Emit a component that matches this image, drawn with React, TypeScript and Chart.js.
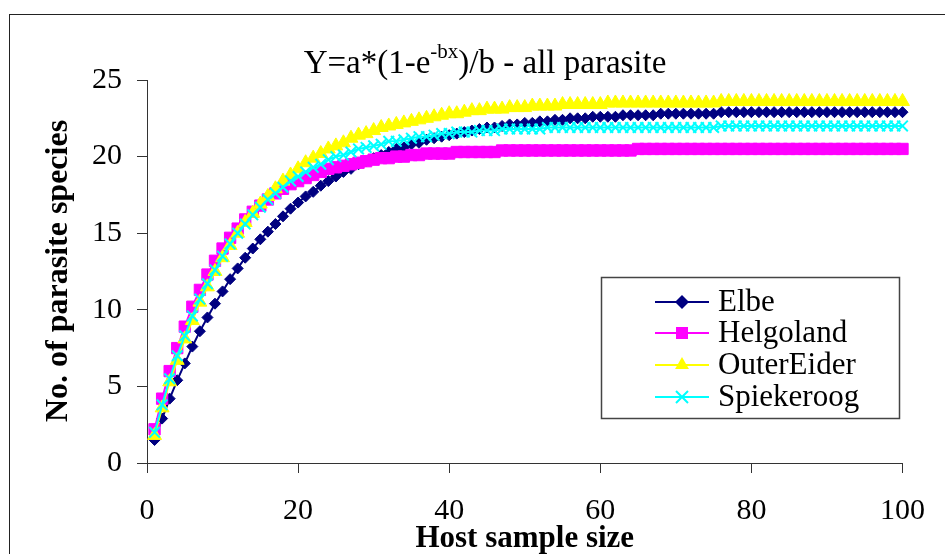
import React, { useEffect, useRef } from 'react';
import { Chart, registerables } from 'chart.js';

Chart.register(...registerables);

const hostSampleSize = [
  1, 2, 3, 4, 5, 6, 7, 8, 9, 10, 11, 12, 13, 14, 15, 16, 17, 18, 19, 20,
  21, 22, 23, 24, 25, 26, 27, 28, 29, 30, 31, 32, 33, 34, 35, 36, 37, 38, 39, 40,
  41, 42, 43, 44, 45, 46, 47, 48, 49, 50, 51, 52, 53, 54, 55, 56, 57, 58, 59, 60,
  61, 62, 63, 64, 65, 66, 67, 68, 69, 70, 71, 72, 73, 74, 75, 76, 77, 78, 79, 80,
  81, 82, 83, 84, 85, 86, 87, 88, 89, 90, 91, 92, 93, 94, 95, 96, 97, 98, 99, 100,
];

const elbe = [
  1.5, 2.9, 4.2, 5.4, 6.5, 7.6, 8.6, 9.5, 10.4, 11.2,
  12.0, 12.7, 13.4, 14.0, 14.6, 15.1, 15.6, 16.1, 16.6, 17.0,
  17.4, 17.7, 18.1, 18.4, 18.7, 19.0, 19.2, 19.5, 19.7, 19.9,
  20.1, 20.3, 20.5, 20.6, 20.8, 20.9, 21.1, 21.2, 21.3, 21.4,
  21.5, 21.6, 21.7, 21.8, 21.9, 21.9, 22.0, 22.1, 22.1, 22.2,
  22.2, 22.3, 22.3, 22.4, 22.4, 22.5, 22.5, 22.5, 22.6, 22.6,
  22.6, 22.6, 22.7, 22.7, 22.7, 22.7, 22.7, 22.8, 22.8, 22.8,
  22.8, 22.8, 22.8, 22.8, 22.8, 22.9, 22.9, 22.9, 22.9, 22.9,
  22.9, 22.9, 22.9, 22.9, 22.9, 22.9, 22.9, 22.9, 22.9, 22.9,
  22.9, 22.9, 22.9, 22.9, 22.9, 22.9, 22.9, 22.9, 22.9, 22.9,
];

const helgoland = [
  2.2, 4.2, 6.0, 7.5, 8.9, 10.2, 11.3, 12.3, 13.2, 14.0,
  14.7, 15.3, 15.9, 16.4, 16.8, 17.2, 17.6, 17.9, 18.2, 18.4,
  18.6, 18.8, 19.0, 19.2, 19.3, 19.4, 19.5, 19.6, 19.7, 19.8,
  19.9, 19.9, 20.0, 20.0, 20.1, 20.1, 20.2, 20.2, 20.2, 20.2,
  20.3, 20.3, 20.3, 20.3, 20.3, 20.3, 20.4, 20.4, 20.4, 20.4,
  20.4, 20.4, 20.4, 20.4, 20.4, 20.4, 20.4, 20.4, 20.4, 20.4,
  20.4, 20.4, 20.4, 20.4, 20.5, 20.5, 20.5, 20.5, 20.5, 20.5,
  20.5, 20.5, 20.5, 20.5, 20.5, 20.5, 20.5, 20.5, 20.5, 20.5,
  20.5, 20.5, 20.5, 20.5, 20.5, 20.5, 20.5, 20.5, 20.5, 20.5,
  20.5, 20.5, 20.5, 20.5, 20.5, 20.5, 20.5, 20.5, 20.5, 20.5,
];

const outerEider = [
  1.8, 3.6, 5.3, 6.7, 8.1, 9.3, 10.5, 11.5, 12.5, 13.4,
  14.2, 15.0, 15.7, 16.3, 16.9, 17.4, 17.9, 18.4, 18.8, 19.2,
  19.6, 19.9, 20.2, 20.5, 20.7, 20.9, 21.2, 21.4, 21.5, 21.7,
  21.9, 22.0, 22.1, 22.2, 22.3, 22.4, 22.5, 22.6, 22.7, 22.8,
  22.8, 22.9, 23.0, 23.0, 23.1, 23.1, 23.1, 23.2, 23.2, 23.2,
  23.3, 23.3, 23.3, 23.3, 23.4, 23.4, 23.4, 23.4, 23.4, 23.4,
  23.5, 23.5, 23.5, 23.5, 23.5, 23.5, 23.5, 23.5, 23.5, 23.5,
  23.5, 23.5, 23.5, 23.5, 23.5, 23.6, 23.6, 23.6, 23.6, 23.6,
  23.6, 23.6, 23.6, 23.6, 23.6, 23.6, 23.6, 23.6, 23.6, 23.6,
  23.6, 23.6, 23.6, 23.6, 23.6, 23.6, 23.6, 23.6, 23.6, 23.6,
];

const spiekeroog = [
  2.0, 3.8, 5.5, 7.0, 8.3, 9.6, 10.7, 11.7, 12.6, 13.5,
  14.3, 15.0, 15.6, 16.2, 16.7, 17.2, 17.6, 18.0, 18.4, 18.7,
  19.0, 19.3, 19.5, 19.8, 20.0, 20.1, 20.3, 20.5, 20.6, 20.7,
  20.8, 21.0, 21.0, 21.1, 21.2, 21.3, 21.3, 21.4, 21.5, 21.5,
  21.6, 21.6, 21.6, 21.7, 21.7, 21.7, 21.8, 21.8, 21.8, 21.8,
  21.8, 21.8, 21.9, 21.9, 21.9, 21.9, 21.9, 21.9, 21.9, 21.9,
  21.9, 21.9, 21.9, 21.9, 21.9, 21.9, 21.9, 21.9, 21.9, 21.9,
  21.9, 21.9, 21.9, 21.9, 21.9, 22.0, 22.0, 22.0, 22.0, 22.0,
  22.0, 22.0, 22.0, 22.0, 22.0, 22.0, 22.0, 22.0, 22.0, 22.0,
  22.0, 22.0, 22.0, 22.0, 22.0, 22.0, 22.0, 22.0, 22.0, 22.0,
];

const seriesNames = ['Elbe', 'Helgoland', 'OuterEider', 'Spiekeroog'];
const seriesValues = [elbe, helgoland, outerEider, spiekeroog];
const seriesColors = ['#000080', '#FF00FF', '#FFFF00', '#00FFFF'];
const seriesStyles = ['rectRot', 'rect', 'triangle', 'crossRot'];
const seriesRadius = [5.5, 8, 8, 7.5];

const titleMain1 = 'Y=a*(1-e';
const titleSup = '-bx';
const titleMain2 = ')/b - all parasite';
const xAxisTitle = 'Host sample size';
const yAxisTitle = 'No. of parasite species';

const SERIF = '"Liberation Serif", "Times New Roman", serif';

function drawMarker(ctx: CanvasRenderingContext2D, style: string, x: number, y: number, color: string) {
  ctx.save();
  ctx.fillStyle = color;
  ctx.strokeStyle = color;
  ctx.beginPath();
  if (style === 'rectRot') {
    const r = 7;
    ctx.moveTo(x, y - r);
    ctx.lineTo(x + r, y);
    ctx.lineTo(x, y + r);
    ctx.lineTo(x - r, y);
    ctx.closePath();
    ctx.fill();
  } else if (style === 'rect') {
    ctx.rect(x - 6, y - 6, 12, 12);
    ctx.fill();
  } else if (style === 'triangle') {
    const r = 8;
    ctx.moveTo(x, y - r);
    ctx.lineTo(x + r * 0.866, y + r * 0.5);
    ctx.lineTo(x - r * 0.866, y + r * 0.5);
    ctx.closePath();
    ctx.fill();
  } else {
    const d = 6;
    ctx.lineWidth = 2;
    ctx.moveTo(x - d, y - d);
    ctx.lineTo(x + d, y + d);
    ctx.moveTo(x + d, y - d);
    ctx.lineTo(x - d, y + d);
    ctx.stroke();
  }
  ctx.restore();
}

const decorPlugin = {
  id: 'decor',
  beforeDraw(chart: any) {
    const ctx = chart.ctx as CanvasRenderingContext2D;
    ctx.save();
    ctx.fillStyle = '#ffffff';
    ctx.fillRect(0, 0, chart.width, chart.height);
    ctx.strokeStyle = '#222';
    ctx.lineWidth = 1;
    ctx.strokeRect(9.5, 14.5, 1000, 1000);
    ctx.restore();
  },
  afterDraw(chart: any) {
    const ctx = chart.ctx as CanvasRenderingContext2D;
    const area = chart.chartArea;
    ctx.save();
    ctx.fillStyle = '#000';

    // Title with superscript
    const mainFont = `33px ${SERIF}`;
    const supFont = `21px ${SERIF}`;
    ctx.font = mainFont;
    const w1 = ctx.measureText(titleMain1).width;
    const w3 = ctx.measureText(titleMain2).width;
    ctx.font = supFont;
    const w2 = ctx.measureText(titleSup).width;
    const total = w1 + w2 + w3;
    let tx = 485 - total / 2;
    const tBase = 73;
    ctx.textBaseline = 'alphabetic';
    ctx.textAlign = 'left';
    ctx.font = mainFont;
    ctx.fillText(titleMain1, tx, tBase);
    tx += w1;
    ctx.font = supFont;
    ctx.fillText(titleSup, tx, tBase - 15);
    tx += w2;
    ctx.font = mainFont;
    ctx.fillText(titleMain2, tx, tBase);

    // X axis title
    ctx.font = `bold 31px ${SERIF}`;
    ctx.textAlign = 'center';
    ctx.fillText(xAxisTitle, (area.left + area.right) / 2, 547);

    // Y axis title
    ctx.save();
    ctx.translate(67, 271);
    ctx.rotate(-Math.PI / 2);
    ctx.font = `bold 32px ${SERIF}`;
    ctx.textAlign = 'center';
    ctx.fillText(yAxisTitle, 0, 0);
    ctx.restore();

    // Legend
    ctx.strokeStyle = '#444';
    ctx.lineWidth = 1.5;
    ctx.strokeRect(601.5, 277.5, 298, 141);
    const rows = [302, 333, 365, 397];
    ctx.font = `31px ${SERIF}`;
    ctx.textAlign = 'left';
    ctx.textBaseline = 'middle';
    seriesNames.forEach((name, i) => {
      const y = rows[i];
      ctx.strokeStyle = seriesColors[i];
      ctx.lineWidth = 2;
      ctx.beginPath();
      ctx.moveTo(655, y);
      ctx.lineTo(709, y);
      ctx.stroke();
      drawMarker(ctx, seriesStyles[i], 682, y, seriesColors[i]);
      ctx.fillStyle = '#000';
      ctx.fillText(name, 718, y + 1);
    });
    ctx.restore();
  },
};

export default function App() {
  const canvasRef = useRef<HTMLCanvasElement | null>(null);

  useEffect(() => {
    const canvas = canvasRef.current;
    if (!canvas) return;
    const datasets = seriesNames.map((name, i) => ({
      label: name,
      data: hostSampleSize.map((x, j) => ({ x, y: seriesValues[i][j] })),
      borderColor: seriesColors[i],
      backgroundColor: seriesColors[i],
      pointBackgroundColor: seriesColors[i],
      pointBorderColor: seriesColors[i],
      pointStyle: seriesStyles[i],
      pointRadius: seriesRadius[i],
      pointBorderWidth: seriesStyles[i] === 'crossRot' ? 2 : 1,
      borderWidth: 2,
      tension: 0,
      clip: false as any,
      order: seriesNames.length - i,
    }));

    const tickFont = { family: SERIF, size: 30 };
    const chart = new Chart(canvas, {
      type: 'line',
      data: { datasets },
      plugins: [decorPlugin],
      options: {
        responsive: false,
        animation: false,
        devicePixelRatio: 1,
        layout: { padding: { left: 0, top: 80, right: 23, bottom: 0 } },
        plugins: {
          legend: { display: false },
          title: { display: false },
          tooltip: { enabled: false },
        },
        scales: {
          x: {
            type: 'linear',
            min: 0,
            max: 100,
            ticks: {
              stepSize: 20,
              font: tickFont,
              color: '#000',
              padding: 20,
              maxRotation: 0,
              autoSkip: false,
            },
            grid: {
              drawOnChartArea: false,
              drawTicks: true,
              tickLength: 10,
              color: '#333',
              lineWidth: 1,
            },
            border: { display: true, color: '#333', width: 1 },
            afterFit: (s: any) => {
              s.height = 91;
            },
          },
          y: {
            type: 'linear',
            min: 0,
            max: 25,
            ticks: {
              stepSize: 5,
              font: tickFont,
              color: '#000',
              padding: 15,
            },
            grid: {
              drawOnChartArea: false,
              drawTicks: true,
              tickLength: 10,
              color: '#333',
              lineWidth: 1,
            },
            border: { display: true, color: '#333', width: 1 },
            afterFit: (s: any) => {
              s.width = 147;
            },
          },
        },
      } as any,
    });
    return () => chart.destroy();
  }, []);

  return (
    <div style={{ position: 'fixed', left: 0, top: 0, width: 945, height: 554, background: '#fff' }}>
      <canvas ref={canvasRef} width={945} height={554} style={{ width: 945, height: 554, display: 'block' }} />
    </div>
  );
}
